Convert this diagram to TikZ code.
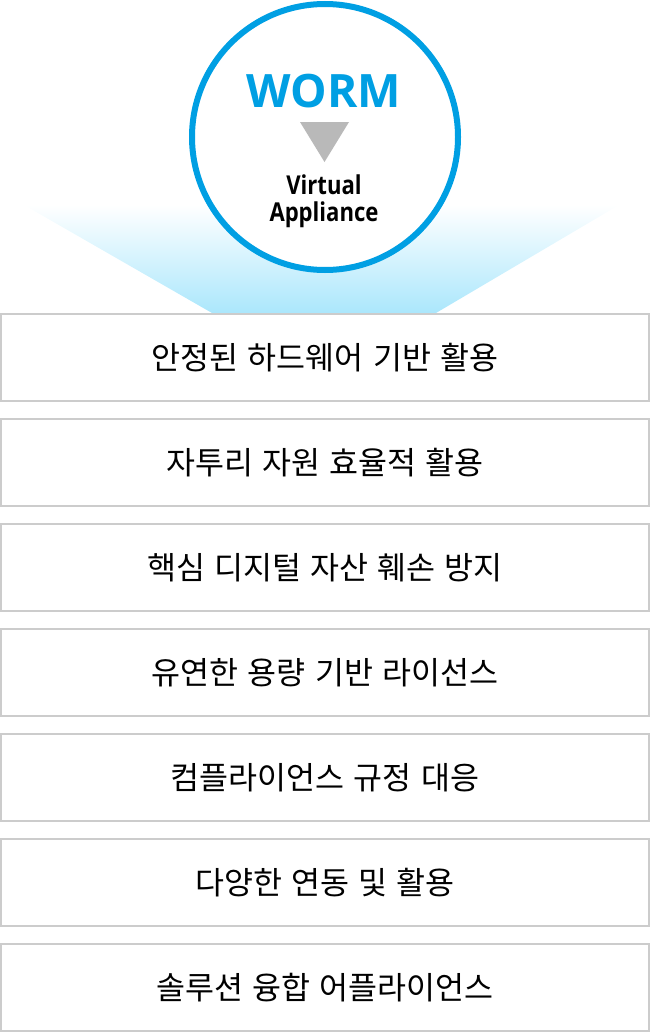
\documentclass[tikz,border=0pt]{standalone}
\usepackage{fontspec}
\usepackage{xcolor}
\usepackage{tikz}
\usetikzlibrary{positioning}
\newfontfamily\kofont{Noto Sans CJK KR}[WordSpace=1.3]
\newfontfamily\enfont{Open Sans}
\newfontfamily\ensmall{Open Sans}[FakeStretch=0.85]
\definecolor{wormblue}{HTML}{009FE3}
\definecolor{boxgray}{HTML}{CCCCCC}
\definecolor{trigray}{HTML}{B9B9B9}
\definecolor{glowcyan}{HTML}{ABE7FC}
\tikzset{
  featbox/.style={draw=boxgray,line width=2pt,minimum width=648pt,minimum height=87pt,
    inner sep=0pt,outer sep=0pt,font=\kofont\fontsize{31.5pt}{34pt}\selectfont}
}

\begin{document}
\begin{tikzpicture}[x=1pt,y=-1pt]
\useasboundingbox (0,0) rectangle (650,1033);
%\draw[-,thick] (0,0) rectangle (650,1033);
\shade[top color=white,bottom color=glowcyan] (24,205) -- (619,205) -- (436,313) -- (212,313) -- cycle;
\draw[wormblue,line width=6pt,fill=white] (325,137) circle (133);
\node[anchor=base,wormblue,font=\enfont\bfseries\fontsize{46pt}{46pt}\selectfont] (worm) at (324,107) {WORM};
\fill[trigray] (300,122) -- (349,122) -- (324.5,162) -- cycle;
\node[anchor=base,font=\ensmall\bfseries\fontsize{26pt}{27pt}\selectfont] (virtual) at (324,194) {Virtual};
\node[anchor=base,font=\ensmall\bfseries\fontsize{26pt}{27pt}\selectfont] (appliance) at (324,221) {Appliance};
\node[featbox] (f1) at (325,357.5) {안정된 하드웨어 기반 활용};
\node[featbox,below=18pt of f1] (f2) {자투리 자원 효율적 활용};
\node[featbox,below=18pt of f2] (f3) {핵심 디지털 자산 훼손 방지};
\node[featbox,below=18pt of f3] (f4) {유연한 용량 기반 라이선스};
\node[featbox,below=18pt of f4] (f5) {컴플라이언스 규정 대응};
\node[featbox,below=18pt of f5] (f6) {다양한 연동 및 활용};
\node[featbox,below=18pt of f6] (f7) {솔루션 융합 어플라이언스};
\end{tikzpicture}
\end{document}
